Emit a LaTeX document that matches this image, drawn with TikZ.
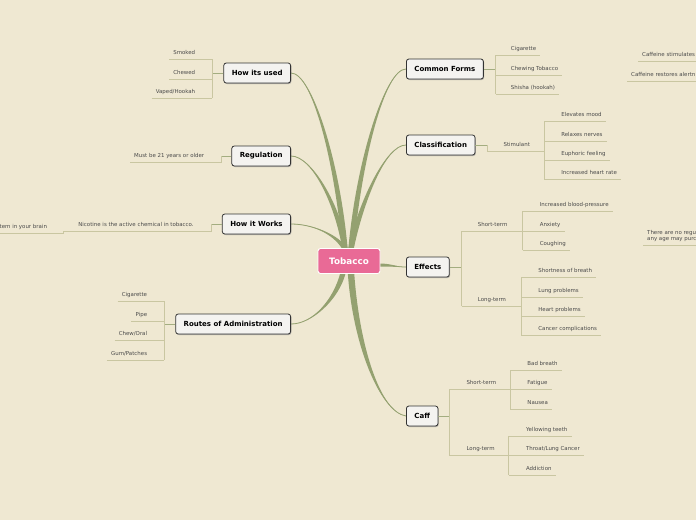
\documentclass[tikz,border=0pt]{standalone}
\usepackage{fontspec}
\setmainfont{DejaVu Sans}
\usetikzlibrary{calc,positioning,shadows,backgrounds}

\definecolor{paper}{HTML}{EFE8D2}
\definecolor{limbcol}{HTML}{94A170}
\definecolor{twigcol}{HTML}{C9C6A1}
\definecolor{stubcol}{HTML}{A3AD80}
\definecolor{rootpink}{HTML}{E96A96}
\definecolor{leafgray}{HTML}{4A4A4A}
\definecolor{topicfill}{HTML}{F4F3F0}

\newcommand\topicfont{\fontsize{7}{8.5}\selectfont\bfseries}
\newcommand\leaffont{\fontsize{5.45}{6}\selectfont}

% tapered main branch: from, control 1, control 2, to, half width
\newcommand\limb[5]{%
  \fill[limbcol] ($(#1)-(#5)$) .. controls ($(#2)-(#5)$) and (#3) .. (#4)
    .. controls (#3) and ($(#2)+(#5)$) .. ($(#1)+(#5)$) -- cycle;
  \draw[limbcol,line width=0.8pt] (#1) .. controls (#2) and (#3) .. (#4);}

\tikzset{
  core/.style={fill=rootpink,draw=white,line width=0.9pt,rounded corners=2.5pt,
    text=white,font=\fontsize{8.8}{10}\selectfont\bfseries,
    minimum width=62pt,minimum height=25pt},
  topic/.style={draw=black!80,fill=topicfill,line width=0.8pt,rounded corners=2.5pt,
    font=\topicfont,inner xsep=8pt,minimum height=20pt,
    drop shadow={shadow xshift=0.8pt,shadow yshift=-1pt,fill=black!45,opacity=0.6}},
  leaf/.style={font=\leaffont,text=leafgray,inner xsep=4pt,inner ysep=3.3pt,
    text height=4pt,text depth=1.1pt},
  note/.style={font=\leaffont,text=leafgray,inner xsep=4pt,inner ysep=3.3pt,align=left},
  twig/.style={draw=twigcol,line width=0.9pt},
  stub/.style={draw=stubcol,line width=1pt}
}

\begin{document}
\begin{tikzpicture}[x=1pt,y=-1pt]
\useasboundingbox (0,0) rectangle (696,520);

% centre
\node[core] (root) at (349,261) {Tobacco};

% main topics
\node[topic,anchor=east] (used) at (291,73) {How its used};
\node[topic,anchor=east] (reg) at (291,156) {Regulation};
\node[topic,anchor=east] (works) at (291,224) {How it Works};
\node[topic,anchor=east] (routes) at (291,324) {Routes of Administration};
\node[topic,anchor=west] (cf) at (406,69) {Common Forms};
\node[topic,anchor=west] (cls) at (406,145) {Classification};
\node[topic,anchor=west] (eff) at (406,267) {Effects};
\node[topic,anchor=west] (caff) at (406,416) {Caff};

% How its used
\coordinate (usedj) at ($(used.west)+(-11,0)$);
\node[leaf,anchor=south east] (u1) at ($(usedj)+(-13,-14)$) {Smoked};
\node[leaf,anchor=south east] (u2) at ($(usedj)+(-13,6)$) {Chewed};
\node[leaf,anchor=south east] (u3) at ($(usedj)+(-13,25)$) {Vaped/Hookah};
\draw[stub] (used.west) -- (usedj);
\draw[twig] (usedj |- u1.south) -- (usedj |- u3.south);
\foreach \n in {u1,u2,u3} \draw[twig] (\n.south west) -- (usedj |- \n.south);

% Regulation
\coordinate (regj) at ($(reg.west)+(-10,0)$);
\node[leaf,anchor=south east] (r1) at ($(regj)+(-13,6)$) {Must be 21 years or older};
\draw[stub] (reg.west) -- (regj);
\draw[twig] (regj) |- (r1.south west);

% How it Works
\coordinate (worksj) at ($(works.west)+(-10,0)$);
\node[leaf,anchor=south east] (nic) at ($(worksj)+(-14,7)$) {Nicotine is the active chemical in tobacco.};
\coordinate (nicj) at ($(nic.south west)+(-11,0)$);
\node[leaf,anchor=south east] (brain) at ($(nicj)+(-12,2)$) {tem in your brain};
\draw[stub] (works.west) -- (worksj);
\draw[twig] (worksj) |- (nicj);
\draw[twig] (nicj) |- (brain.south west);

% Routes of Administration
\coordinate (rtj) at ($(routes.west)+(-11,0)$);
\node[leaf,anchor=south east] (a1) at ($(rtj)+(-13,-23)$) {Cigarette};
\node[leaf,anchor=south east] (a2) at ($(rtj)+(-13,-3)$) {Pipe};
\node[leaf,anchor=south east] (a3) at ($(rtj)+(-13,16)$) {Chew/Oral};
\node[leaf,anchor=south east] (a4) at ($(rtj)+(-13,36)$) {Gum/Patches};
\draw[stub] (routes.west) -- (rtj);
\draw[twig] (rtj |- a1.south) -- (rtj |- a4.south);
\foreach \n in {a1,a2,a3,a4} \draw[twig] (\n.south west) -- (rtj |- \n.south);

% Common Forms
\coordinate (cfj) at ($(cf.east)+(12,0)$);
\node[leaf,anchor=south west] (cf1) at ($(cfj)+(11,-14)$) {Cigarette};
\node[leaf,anchor=south west] (cf2) at ($(cfj)+(11,6)$) {Chewing Tobacco};
\node[leaf,anchor=south west] (cf3) at ($(cfj)+(11,25)$) {Shisha (hookah)};
\draw[stub] (cf.east) -- (cfj);
\draw[twig] (cfj |- cf1.south) -- (cfj |- cf3.south);
\foreach \n in {cf1,cf2,cf3} \draw[twig] (cfj |- \n.south) -- (\n.south east);

% Classification
\coordinate (clsj) at ($(cls.east)+(12,0)$);
\node[leaf,anchor=south west] (stim) at ($(clsj)+(12,6)$) {Stimulant};
\coordinate (stimj) at ($(stim.south east)+(10,0)$);
\node[leaf,anchor=south west] (s1) at ($(stimj)+(13,-30)$) {Elevates mood};
\node[leaf,anchor=south west] (s2) at ($(stimj)+(13,-10)$) {Relaxes nerves};
\node[leaf,anchor=south west] (s3) at ($(stimj)+(13,9)$) {Euphoric feeling};
\node[leaf,anchor=south west] (s4) at ($(stimj)+(13,28)$) {Increased heart rate};
\draw[stub] (cls.east) -- (clsj);
\draw[twig] (clsj) |- (stimj);
\draw[twig] (stimj |- s1.south) -- (stimj |- s4.south);
\foreach \n in {s1,s2,s3,s4} \draw[twig] (stimj |- \n.south) -- (\n.south east);

% Effects
\coordinate (effj) at ($(eff.east)+(12,0)$);
\node[leaf,anchor=south west] (est) at ($(effj)+(12,-36)$) {Short-term};
\node[leaf,anchor=south west] (elt) at ($(effj)+(12,39)$) {Long-term};
\coordinate (estj) at ($(est.south east)+(11,0)$);
\coordinate (eltj) at ($(elt.south east)+(11,0)$);
\node[leaf,anchor=south west] (e1) at ($(estj)+(13,-20)$) {Increased blood-pressure};
\node[leaf,anchor=south west] (e2) at ($(estj)+(13,0)$) {Anxiety};
\node[leaf,anchor=south west] (e3) at ($(estj)+(13,19)$) {Coughing};
\node[leaf,anchor=south west] (e4) at ($(eltj)+(13,-29)$) {Shortness of breath};
\node[leaf,anchor=south west] (e5) at ($(eltj)+(13,-9)$) {Lung problems};
\node[leaf,anchor=south west] (e6) at ($(eltj)+(13,10)$) {Heart problems};
\node[leaf,anchor=south west] (e7) at ($(eltj)+(13,29)$) {Cancer complications};
\draw[stub] (eff.east) -- (effj);
\draw[twig] (effj |- est.south) -- (effj |- elt.south);
\draw[twig] (effj |- est.south) -- (estj);
\draw[twig] (effj |- elt.south) -- (eltj);
\draw[twig] (estj |- e1.south) -- (estj |- e3.south);
\draw[twig] (eltj |- e4.south) -- (eltj |- e7.south);
\foreach \n in {e1,e2,e3} \draw[twig] (estj |- \n.south) -- (\n.south east);
\foreach \n in {e4,e5,e6,e7} \draw[twig] (eltj |- \n.south) -- (\n.south east);

% Caff
\coordinate (caffj) at ($(caff.east)+(11,0)$);
\node[leaf,anchor=south west] (cst) at ($(caffj)+(13,-27)$) {Short-term};
\node[leaf,anchor=south west] (clt) at ($(caffj)+(13,39)$) {Long-term};
\coordinate (cstj) at ($(cst.south east)+(10,0)$);
\coordinate (cltj) at ($(clt.south east)+(10,0)$);
\node[leaf,anchor=south west] (k1) at ($(cstj)+(13,-19)$) {Bad breath};
\node[leaf,anchor=south west] (k2) at ($(cstj)+(13,0)$) {Fatigue};
\node[leaf,anchor=south west] (k3) at ($(cstj)+(13,20)$) {Nausea};
\node[leaf,anchor=south west] (k4) at ($(cltj)+(13,-19)$) {Yellowing teeth};
\node[leaf,anchor=south west] (k5) at ($(cltj)+(13,0)$) {Throat/Lung Cancer};
\node[leaf,anchor=south west] (k6) at ($(cltj)+(13,20)$) {Addiction};
\draw[stub] (caff.east) -- (caffj);
\draw[twig] (caffj |- cst.south) -- (caffj |- clt.south);
\draw[twig] (caffj |- cst.south) -- (cstj);
\draw[twig] (caffj |- clt.south) -- (cltj);
\draw[twig] (cstj |- k1.south) -- (cstj |- k3.south);
\draw[twig] (cltj |- k4.south) -- (cltj |- k6.south);
\foreach \n in {k1,k2,k3} \draw[twig] (cstj |- \n.south) -- (\n.south east);
\foreach \n in {k4,k5,k6} \draw[twig] (cltj |- \n.south) -- (\n.south east);

% notes running off the right edge
\coordinate (rim) at (700,0);
\node[leaf,anchor=south west] (stimnote) at (638,61) {Caffeine stimulates};
\node[leaf,anchor=south west] (alertnote) at (627,81) {Caffeine restores alertn};
\node[note,anchor=south west] (agenote) at (643,245) {There are no regu\\any age may purc};
\foreach \n in {stimnote,alertnote,agenote} \draw[twig] (\n.south west) -- (\n.south west -| rim);

% main branches
\coordinate (rtl) at ($(root.north)+(-4,1)$);
\coordinate (rtr) at ($(root.north)+(2,1)$);
\coordinate (rbl) at ($(root.south)+(-6,-1)$);
\coordinate (rbr) at ($(root.south)+(2,-1)$);
\coordinate (rr) at ($(root.east)+(-1,4)$);
\begin{scope}[on background layer]
\fill[paper] (0,0) rectangle (696,520);
\limb{rtl}{337,160}{312,73}{used.east}{2.7,0}
\limb{rtl}{338,205}{312,156}{reg.east}{2.7,0}
\limb{rtl}{336,234}{312,224}{works.east}{2.7,0}
\limb{rbl}{336,300}{312,324}{routes.east}{2.7,0}
\limb{rtr}{359,160}{385,69}{cf.west}{2.7,0}
\limb{rtr}{360,205}{385,145}{cls.west}{2.7,0}
\limb{rr}{392,265}{396,267}{eff.west}{0,1.5}
\limb{rbr}{356,345}{380,412}{caff.west}{3.2,0}
\end{scope}
\end{tikzpicture}
\end{document}
